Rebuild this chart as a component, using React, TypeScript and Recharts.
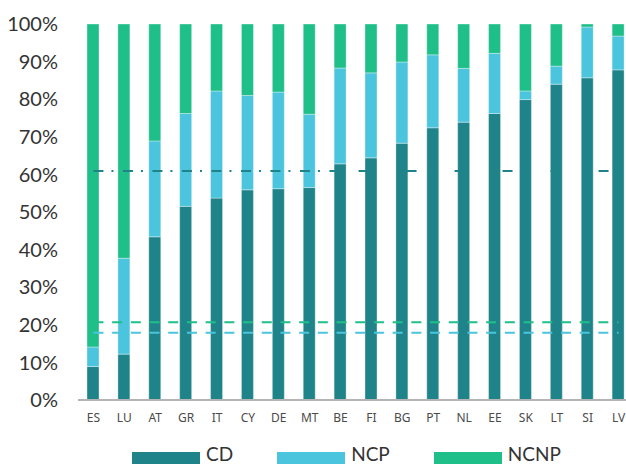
import { BarChart, Bar, XAxis, YAxis, ReferenceLine } from 'recharts';

const COUNTRIES = ['ES','LU','AT','GR','IT','CY','DE','MT','BE','FI','BG','PT','NL','EE','SK','LT','SI','LV'];
const CD_SHARE   = [8.9,12.2,43.4,51.5,53.7,55.9,56.2,56.5,62.8,64.4,68.3,72.4,73.9,76.2,79.9,84.0,85.7,87.8];
const NCP_SHARE  = [5.2,25.5,25.5,24.7,28.5,25.1,25.7,19.5,25.5,22.6,21.6,19.4,14.3,16.0,2.3,4.8,13.5,9.0];
const NCNP_SHARE = [85.9,62.3,31.1,23.8,17.8,19.0,18.1,24.0,11.7,13.0,10.1,8.2,11.8,7.8,17.8,11.2,0.8,3.2];
const Y_TICKS = [0,10,20,30,40,50,60,70,80,90,100];
const CD_AVG = 60.9;
const NCNP_AVG = 20.7;
const NCP_AVG = 17.9;

const C_CD = '#1f8489';
const C_NCP = '#4bc4dd';
const C_NCNP = '#1fbf89';
const FONT = 'Lato, "Liberation Sans", sans-serif';

const data = COUNTRIES.map((c,i)=>({c,cd:CD_SHARE[i],ncp:NCP_SHARE[i],ncnp:NCNP_SHARE[i]}));
const LEGEND = [['CD',C_CD],['NCP',C_NCP],['NCNP',C_NCNP]];

export default function App() {
  const barStroke = 'rgba(255,255,255,0.35)';
  return (
    <div style={{position:'fixed',left:0,top:0,width:626,height:464,overflow:'hidden',background:'#fff'}}>
      <BarChart width={634} height={464} data={data} margin={{top:24,right:0,bottom:0,left:0}} barSize={12}>
        <XAxis dataKey="c" height={64} tickLine={false} tickSize={0} tickMargin={13} interval={0}
          axisLine={{stroke:'#b4b4b4',strokeWidth:2}}
          tick={{fill:'#4a4a4a',fontSize:12,fontFamily:'"Noto Sans", sans-serif'}}/>
        <YAxis width={78} domain={[0,100]} ticks={Y_TICKS} axisLine={false} tickLine={false} tickSize={0} tickMargin={20}
          tickFormatter={v=>`${v}%`} tick={{fill:'#333',fontSize:20,fontFamily:FONT}}/>
        <Bar dataKey="cd" stackId="a" fill={C_CD} stroke={barStroke} strokeWidth={1} isAnimationActive={false}/>
        <Bar dataKey="ncp" stackId="a" fill={C_NCP} stroke={barStroke} strokeWidth={1} isAnimationActive={false}/>
        <Bar dataKey="ncnp" stackId="a" fill={C_NCNP} stroke={barStroke} strokeWidth={1} isAnimationActive={false}/>
        <ReferenceLine segment={[{x:'ES',y:CD_AVG},{x:'BE',y:CD_AVG}]} stroke={C_CD} strokeWidth={2} strokeDasharray="10 8 2 9.5"/>
        <ReferenceLine segment={[{x:'BE',y:CD_AVG},{x:'LV',y:CD_AVG}]} stroke={C_CD} strokeWidth={2} strokeDasharray="0 18 10 20"/>
        <ReferenceLine segment={[{x:'ES',y:NCNP_AVG},{x:'LV',y:NCNP_AVG}]} stroke={C_NCNP} strokeWidth={2} strokeDasharray="10 8.7"/>
        <ReferenceLine segment={[{x:'ES',y:NCP_AVG},{x:'LV',y:NCP_AVG}]} stroke={C_NCP} strokeWidth={2} strokeDasharray="10 8.7"/>
      </BarChart>
      <div style={{position:'absolute',left:132,top:444,display:'flex',gap:44,alignItems:'flex-start'}}>
        {LEGEND.map(([name,color])=>(
          <div key={name} style={{display:'flex',alignItems:'flex-start',gap:6}}>
            <div style={{width:68,height:14,marginTop:8,background:color}}/>
            <span style={{fontFamily:FONT,fontSize:19,color:'#333',lineHeight:'19px'}}>{name}</span>
          </div>
        ))}
      </div>
    </div>
  );
}
